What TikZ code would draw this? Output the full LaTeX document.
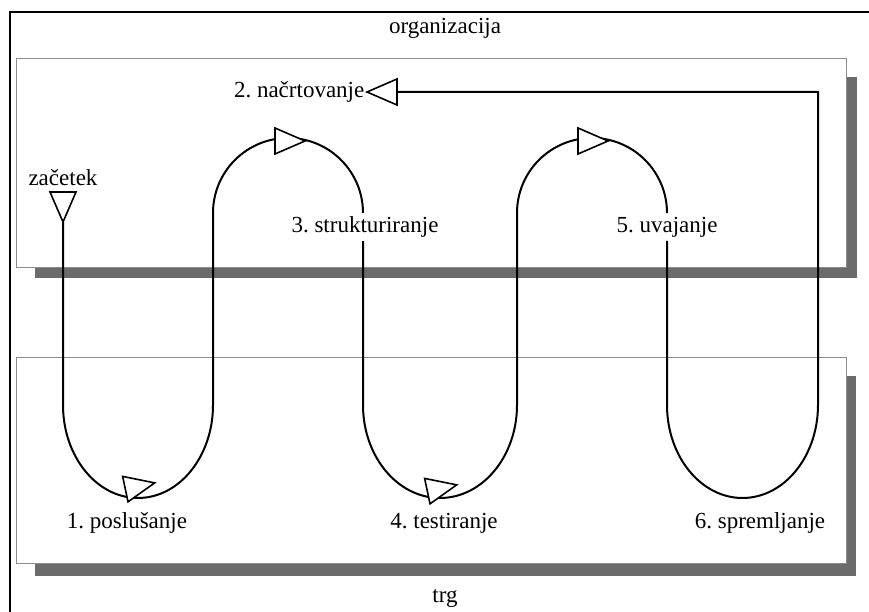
\documentclass[tikz,border=0pt]{standalone}
\usepackage{fontspec}
\setmainfont{Liberation Serif}
\frenchspacing
\begin{document}
\begin{tikzpicture}[x=1pt,y=1pt,
  frameline/.style={line width=2.4pt},
  boxline/.style={draw=black!45, line width=0.8pt, fill=white},
  shadowbox/.style={fill=black!58},
  flow/.style={line width=2pt},
  tri/.style={draw, fill=white, line width=1.6pt, line join=miter},
  lbl/.style={font=\fontsize{23}{26}\selectfont, inner sep=3.5pt},
  opentri/.pic={\draw[tri] (-15,-13) -- (15,0) -- (-15,13) -- cycle;}]
\useasboundingbox (0,0) rectangle (869,612);
% outer frame
\coordinate (fa) at (10,-5);
\coordinate (fb) at (10,600);
\coordinate (fc) at (875,600);
\draw[frameline] (fa) -- (fb) -- (fc);
% boxes with shadows
\fill[shadowbox] (35,535) rectangle (857,334);
\draw[boxline] (16,554) rectangle (846,345);
\fill[shadowbox] (35,236) rectangle (856,36);
\draw[boxline] (16,255) rectangle (846,49);
% labels
\node[lbl] (org) at (445,584) {organizacija};
\node[lbl] (trg) at (445,13) {trg};
\node[lbl, anchor=east] (s2) at (368,520) {2. načrtovanje};
\node[lbl] (st) at (63,434) {začetek};
\node[lbl] (s3) at (365,385) {3. strukturiranje};
\node[lbl] (s5) at (667,385) {5. uvajanje};
\node[lbl] (s1) at (127,89) {1. poslušanje};
\node[lbl] (s4) at (444,89) {4. testiranje};
\node[lbl] (s6) at (760,89) {6. spremljanje};
% flow
\coordinate (p0) at (63,390);
\coordinate (x3) at (363,0);
\coordinate (x5) at (667,0);
\coordinate (t2) at (397,520);
\draw[flow] (p0) -- (63,207)
  arc[start angle=180, end angle=360, x radius=75, y radius=93] -- (213,399)
  arc[start angle=180, end angle=0, radius=75] -- (s3.north -| x3);
\draw[flow] (s3.south -| x3) -- (363,207)
  arc[start angle=180, end angle=360, x radius=77, y radius=93] -- (517,399)
  arc[start angle=180, end angle=0, radius=75] -- (s5.north -| x5);
\draw[flow] (s5.south -| x5) -- (667,207)
  arc[start angle=180, end angle=360, x radius=75.5, y radius=93] -- (818,520) -- (t2);
% arrowheads
\pic[rotate=-90] at (63,405) {opentri};
\pic[rotate=180] at (382,520) {opentri};
\pic at (290,471) {opentri};
\pic at (593,471) {opentri};
\pic[rotate=12] at (140,126) {opentri};
\pic[rotate=12] at (442,124) {opentri};
\end{tikzpicture}
\end{document}
